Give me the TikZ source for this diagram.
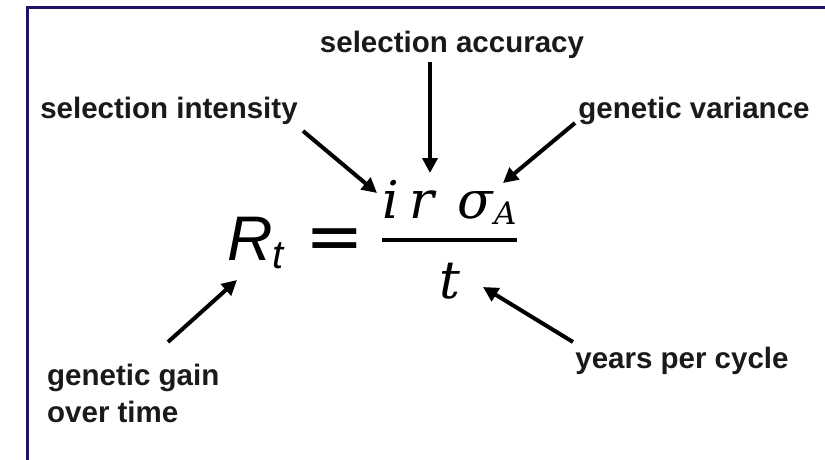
\documentclass[tikz,border=0pt]{standalone}
\usepackage{fontspec}
\setmainfont{Liberation Sans}
\newfontfamily\dejavu{DejaVu Sans}
\newfontfamily\dvserif{DejaVu Serif}
\usetikzlibrary{arrows.meta}
\definecolor{framecol}{HTML}{1B1464}
\definecolor{txtcol}{HTML}{1A1A1A}
\tikzset{
  lbl/.style={inner sep=0pt, text=txtcol, font=\fontsize{29.5}{37}\selectfont\bfseries},
  formula/.style={inner sep=0pt, text=black},
  pointer/.style={line width=4pt, draw=black, -{Triangle[length=15pt,width=15pt]}},
  framerule/.style={line width=3pt, draw=framecol}
}
\begin{document}
\begin{tikzpicture}[x=1pt,y=-1pt]
\useasboundingbox (0,0) rectangle (825,460);
\fill[white] (0,0) rectangle (825,460);
% frame
\coordinate (fA) at (27,460);
\coordinate (fB) at (27,8);
\coordinate (fC) at (825,8);
\draw[framerule] (fA) -- (fB) -- (fC);

% labels
\node[lbl, anchor=base] (acc) at (452,53) {selection accuracy};
\node[lbl, anchor=base] (int) at (169,118) {selection intensity};
\node[lbl, anchor=base] (var) at (694,118) {genetic variance};
\node[lbl, anchor=base] (yrs) at (682,368) {years per cycle};
\node[lbl, anchor=base west, align=left] (gain) at (47,422) {genetic gain\\over time};

% formula
\node[formula, anchor=base west] (R) at (227,260)
  {\fontsize{63}{63}\selectfont\itshape R\raisebox{-8pt}{\fontsize{40}{40}\selectfont t}};
\node[formula] (eq) at (334.5,245) {\dejavu\fontsize{70}{70}\selectfont =};
\node[formula, anchor=base west] (num) at (382,218)
  {\dvserif\itshape\fontsize{52}{52}\selectfont i\hspace{11pt}r\hspace{23pt}σ\hspace{1pt}\raisebox{-6pt}{\fontsize{31}{31}\selectfont A}};
\coordinate (barL) at (382,240);
\coordinate (barR) at (517,240);
\draw[line width=4.5pt] (barL) -- (barR);
\node[formula, anchor=base] (den) at (450,298)
  {\dvserif\itshape\fontsize{52}{52}\selectfont t};

% arrows
\coordinate (s1) at (430,62);  \coordinate (e1) at (430,173);
\coordinate (s2) at (303,131); \coordinate (e2) at (377,193);
\coordinate (s3) at (575,123); \coordinate (e3) at (503,183);
\coordinate (s4) at (168,342); \coordinate (e4) at (237,280);
\coordinate (s5) at (573,342); \coordinate (e5) at (483,287);
\draw[pointer] (s1) -- (e1);
\draw[pointer] (s2) -- (e2);
\draw[pointer] (s3) -- (e3);
\draw[pointer] (s4) -- (e4);
\draw[pointer] (s5) -- (e5);
\end{tikzpicture}
\end{document}
